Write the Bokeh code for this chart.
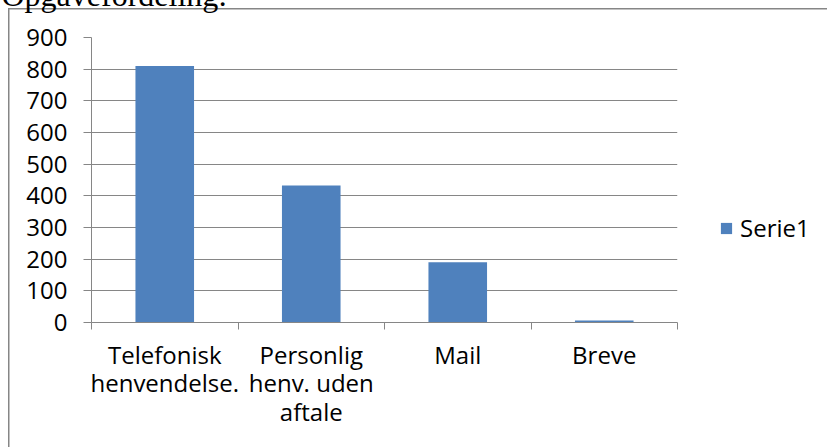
from bokeh.plotting import figure
from bokeh.models import ColumnDataSource, Range1d, FixedTicker, Legend, LegendItem, LinearAxis
from bokeh.embed import file_html
from bokeh.resources import INLINE

categories = ["Telefonisk\nhenvendelse.", "Personlig\nhenv. uden\naftale", "Mail", "Breve"]
values = [810, 433, 190, 6]
series_name = "Serie1"
y_ticks = [0, 100, 200, 300, 400, 500, 600, 700, 800, 900]
title_text = "Opgavefordeling:"

FONT = "Open Sans"
GRAY = "#868686"
BLUE = "#4F81BD"
SHIFT = 24  # canvas is pulled up so the title is cut at the top edge, as in the reference

x_pos = [i + 0.5 for i in range(len(categories))]
src = ColumnDataSource(dict(x=x_pos, top=values))

p = figure(width=827, height=447 + SHIFT, frame_width=586, frame_height=285,
           output_backend="svg", toolbar_location=None,
           x_range=Range1d(0, len(categories)), y_range=Range1d(0, 900),
           min_border_left=91, min_border_right=150, min_border_top=37 + SHIFT,
           min_border_bottom=125)
p.outline_line_color = None
p.background_fill_color = "white"
p.border_fill_color = None
p.styles = {
    "margin-top": f"-{SHIFT}px",
    "background": (f"linear-gradient({GRAY}, {GRAY}) 8px {8 + SHIFT}px / 819px 1.5px no-repeat, "
                   f"linear-gradient({GRAY}, {GRAY}) 8px {8 + SHIFT}px / 1.5px 500px no-repeat, white"),
}

p.title.text = title_text
p.title.text_font = "Liberation Serif"
p.title.text_font_size = "32px"
p.title.text_font_style = "normal"
p.title.text_color = "black"
p.title.align = "left"
p.title.vertical_align = "top"
p.title.offset = -90
p.title.standoff = 0

xa = p.below[0]
ya = p.left[0]

# empty spacer above the frame that lifts the title up to the top edge
spacer = LinearAxis(ticker=FixedTicker(ticks=[]), axis_line_color=None,
                    major_tick_line_color=None, minor_tick_line_color=None,
                    major_tick_out=0, major_tick_in=0, minor_tick_out=0,
                    major_label_standoff=0, major_label_text_font_size="0px",
                    axis_label=" ", axis_label_text_font_size="2px",
                    axis_label_standoff=18, axis_label_text_color=None)
p.add_layout(spacer, "above")

r = p.vbar(x="x", top="top", bottom=0, width=0.4, source=src, fill_color=BLUE, line_color=None)

# y axis
ya.ticker = FixedTicker(ticks=y_ticks)
ya.axis_line_color = GRAY
ya.major_tick_line_color = GRAY
ya.major_tick_out = 8
ya.major_tick_in = 0
ya.minor_tick_line_color = None
ya.major_label_standoff = 16
ya.major_label_text_font = FONT
ya.major_label_text_font_size = "24px"
ya.major_label_text_color = "black"

# x axis: labels at the category centres, tick marks on the category borders
xa.ticker = FixedTicker(ticks=x_pos, minor_ticks=list(range(len(categories) + 1)))
xa.major_label_overrides = {x: c for x, c in zip(x_pos, categories)}
xa.axis_line_color = GRAY
xa.major_tick_line_color = None
xa.major_tick_out = 0
xa.major_tick_in = 0
xa.minor_tick_line_color = GRAY
xa.minor_tick_out = 7
xa.minor_tick_in = 0
xa.major_label_standoff = 8
xa.major_label_text_font = FONT
xa.major_label_text_font_size = "24px"
xa.major_label_text_line_height = 0.87
xa.major_label_text_color = "black"
xa.major_label_text_align = "center"

p.xgrid.grid_line_color = None
p.ygrid.ticker = FixedTicker(ticks=y_ticks)
p.ygrid.grid_line_color = GRAY
p.ygrid.grid_line_width = 1

legend = Legend(items=[LegendItem(label=series_name, renderers=[r])], location=(42, 78),
                border_line_color=None, background_fill_alpha=0, padding=0, margin=0,
                glyph_width=14, glyph_height=14, label_standoff=7,
                label_text_font=FONT, label_text_font_size="24px", label_text_color="black")
p.add_layout(legend, "right")

open("out.html", "w").write(file_html(p, INLINE))
